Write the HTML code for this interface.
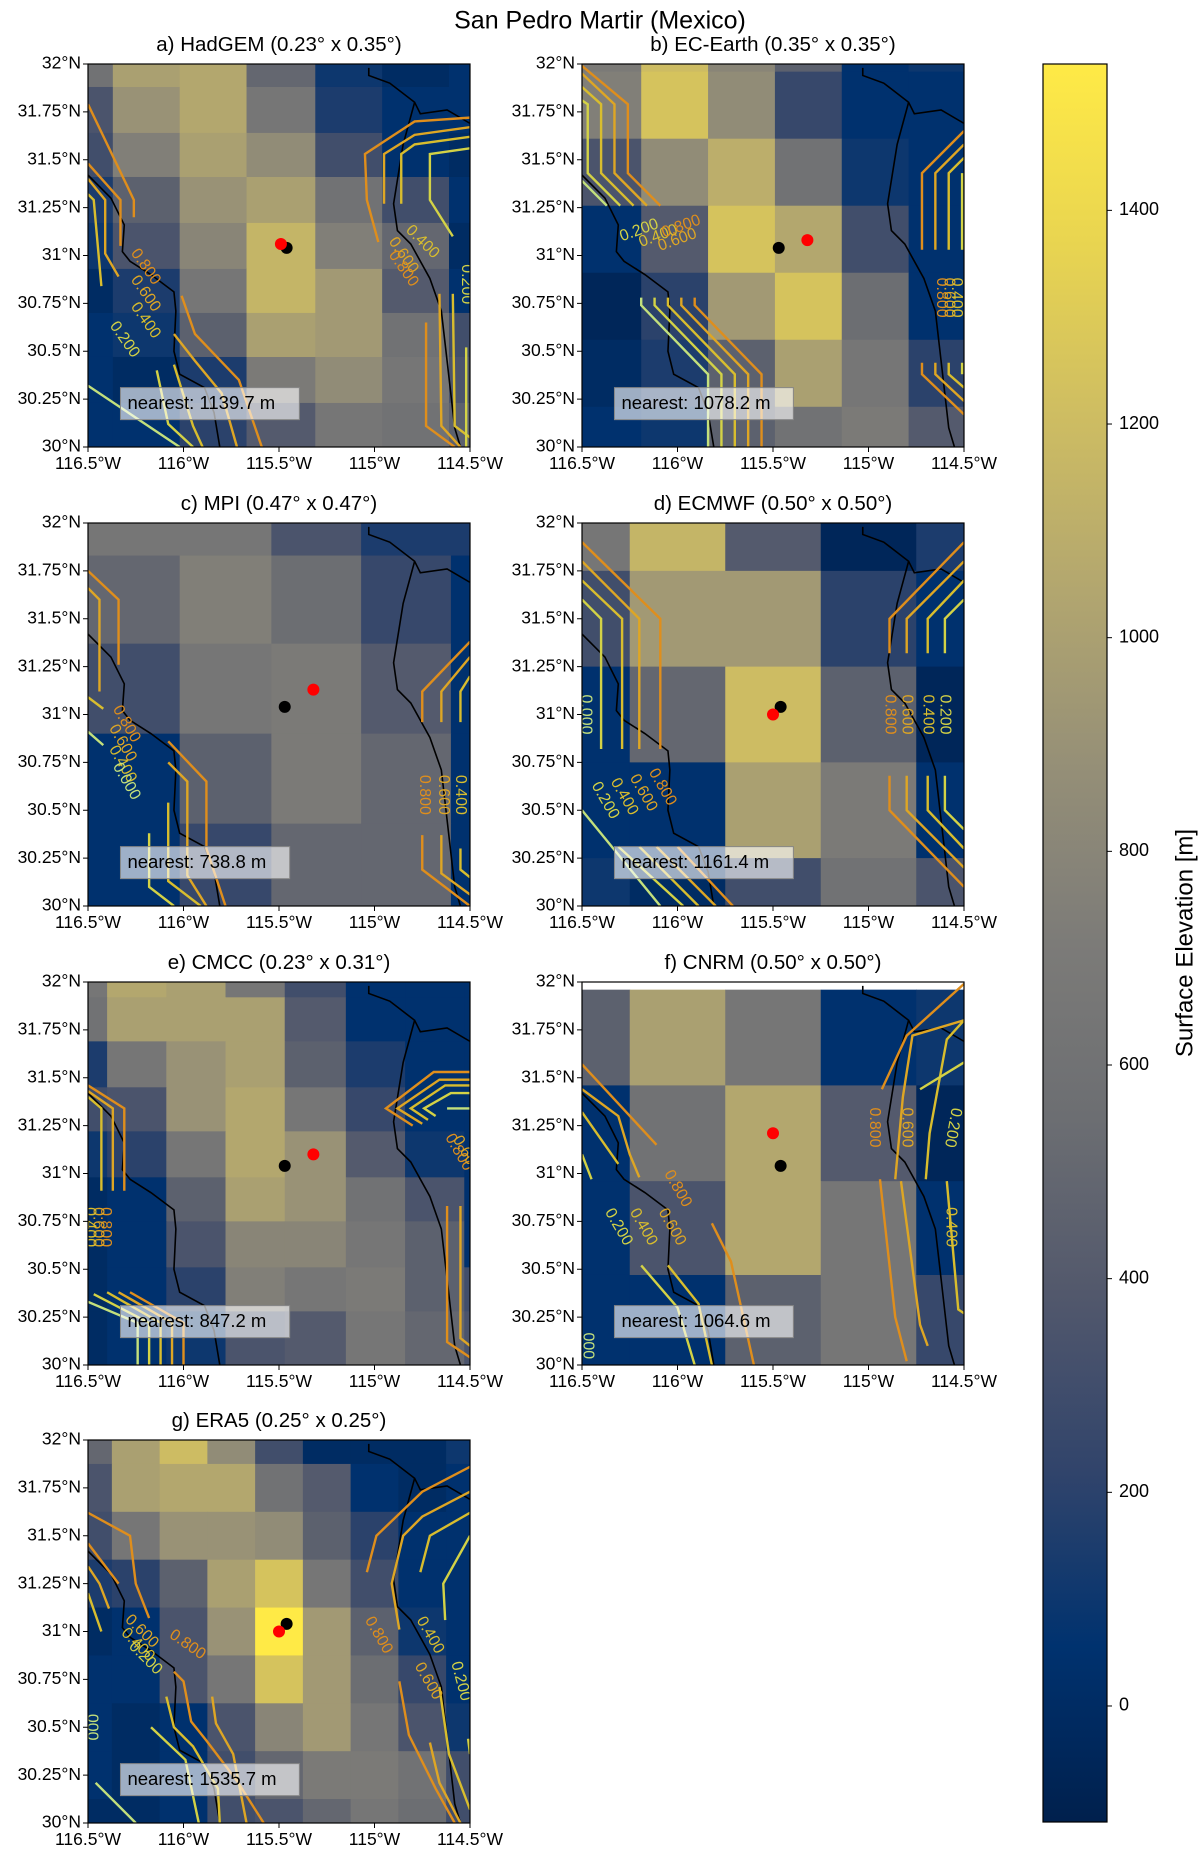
<!DOCTYPE html>
<html><head><meta charset="utf-8"><style>
body{margin:0;background:#fff;}
svg text{font-family:"Liberation Sans","DejaVu Sans",sans-serif;}
</style></head><body>
<svg id="fig" width="1200" height="1852" viewBox="0 0 1200 1852" xmlns="http://www.w3.org/2000/svg">
<text x="600" y="22" font-size="25" text-anchor="middle" dominant-baseline="middle" fill="#000">San Pedro Martir (Mexico)</text>
</svg>
<script>
const VMIN=-108.6, VMAX=1537;
const cbTicks=[0,200,400,600,800,1000,1200,1400];
const xTickVals=[-116.5,-116,-115.5,-115,-114.5];
const xTickLabels=["116.5°W","116°W","115.5°W","115°W","114.5°W"];
const yTickVals=[32,31.75,31.5,31.25,31,30.75,30.5,30.25,30];
const yTickLabels=["32°N","31.75°N","31.5°N","31.25°N","31°N","30.75°N","30.5°N","30.25°N","30°N"];
const coastWest=[[-116.5,31.42],[-116.38,31.30],[-116.31,31.16],[-116.32,31.02],[-116.28,30.97],[-116.17,30.90],[-116.05,30.81],[-116.04,30.71],[-116.05,30.50],[-116.02,30.38],[-115.89,30.31],[-115.84,30.18],[-115.81,30.0]];
const coastGulfW=[[-115.03,31.98],[-115.03,31.94],[-114.92,31.90],[-114.79,31.80],[-114.85,31.58],[-114.90,31.27],[-114.88,31.13],[-114.81,31.06],[-114.71,30.88],[-114.65,30.71],[-114.62,30.45],[-114.58,30.10],[-114.55,30.0]];
const coastGulfE=[[-114.79,31.80],[-114.76,31.74],[-114.62,31.76],[-114.5,31.69]];
const cividis=[[0,32,77],[0,50,111],[49,68,107],[82,88,108],[108,110,114],[124,123,120],[149,143,119],[178,166,111],[206,189,98],[233,213,80],[255,234,70]];
const levelColors={"0.0":"#c3e07c","0.2":"#d3d246","0.4":"#d8bd2e","0.6":"#dea624","0.8":"#df8e1c"};

// Panel a
const titleA="a) HadGEM (0.23° x 0.35°)";
const lonA=[-116.5,-116.37,-116.02,-115.67,-115.31,-114.96,-114.61,-114.5];
const latA=[32,31.88,31.64,31.41,31.17,30.93,30.70,30.47,30.23,30];
const elevA=[[600,1000,1050,500,100,0,50],[350,900,1050,650,150,50,50],[300,750,1000,850,300,50,0],[150,450,900,1000,600,300,50],[100,350,800,1150,750,500,0],[0,150,650,1150,950,400,50],[50,100,450,1000,950,600,300],[50,0,150,700,850,650,350],[50,50,200,400,650,600,450]];
const blackA=[-115.46,31.04], redA=[-115.49,31.06], nearestA="nearest: 1139.7 m";
const contA=[["0.8",[[-116.5,31.79],[-116.26,31.29],[-116.26,31.2]]],["0.8",[[-116.5,31.48],[-116.33,31.29],[-116.33,31.05]]],["0.6",[[-116.5,31.4],[-116.41,31.29],[-116.41,31.01],[-116.34,30.89]]],["0.4",[[-116.5,31.32],[-116.47,31.29],[-116.43,30.84]]],["0.8",[[-116.01,30.79],[-115.94,30.59],[-115.71,30.35],[-115.59,30]]],["0.6",[[-116.05,30.59],[-115.94,30.45],[-115.8,30.28],[-115.72,30]]],["0.4",[[-116.05,30.43],[-115.95,30.11],[-115.9,30]]],["0.2",[[-116.14,30.4],[-116.08,30.12],[-115.95,30]]],["0.0",[[-116.5,30.32],[-116.02,30]]],["0.8",[[-114.98,31.07],[-115.04,31.29],[-115.05,31.53],[-114.79,31.70],[-114.5,31.72]]],["0.6",[[-114.95,31.27],[-114.95,31.53],[-114.79,31.63],[-114.5,31.67]]],["0.4",[[-114.86,31.27],[-114.86,31.53],[-114.79,31.58],[-114.5,31.62]]],["0.2",[[-114.59,31.1],[-114.71,31.29],[-114.71,31.53],[-114.5,31.56]]],["0.8",[[-114.73,30.65],[-114.73,30.11],[-114.58,30]]],["0.6",[[-114.66,30.8],[-114.65,30.11],[-114.55,30]]],["0.4",[[-114.59,30.8],[-114.58,30.11],[-114.5,30.05]]],["0.2",[[-114.52,30.52],[-114.52,30]]]];
const labA=[["0.8","0.800",-116.2,30.94,55],["0.6","0.600",-116.2,30.8,55],["0.4","0.400",-116.2,30.66,55],["0.2","0.200",-116.31,30.56,55],["0.4","0.400",-114.75,31.07,45],["0.6","0.600",-114.85,31.0,55],["0.8","0.800",-114.85,30.93,55],["0.2","0.200",-114.52,30.85,90]];

// Panel b
const titleB="b) EC-Earth (0.35° x 0.35°)";
const lonB=[-116.5,-116.19,-115.84,-115.49,-115.14,-114.79,-114.5];
const latB=[32,31.96,31.61,31.26,30.91,30.56,30.21,30];
const elevB=[[700,1200,800,450,50,100],[750,1250,850,250,50,50],[350,850,1100,600,100,50],[50,400,1250,1050,300,50],[-50,200,950,1250,550,50],[0,150,450,1000,650,200],[50,100,450,600,700,400]];
const blackB=[-115.47,31.04], redB=[-115.32,31.08], nearestB="nearest: 1078.2 m";
const contB=[["0.8",[[-116.5,31.99],[-116.26,31.79],[-116.26,31.43],[-116.09,31.26]]],["0.6",[[-116.5,31.95],[-116.33,31.79],[-116.33,31.43],[-116.16,31.26]]],["0.4",[[-116.5,31.88],[-116.4,31.79],[-116.4,31.43],[-116.23,31.26]]],["0.2",[[-116.5,31.81],[-116.47,31.79],[-116.47,31.43],[-116.3,31.26]]],["0.0",[[-116.5,31.39],[-116.37,31.26]]],["0.0",[[-116.19,30.78],[-116.19,30.74],[-115.84,30.38],[-115.84,30]]],["0.2",[[-116.12,30.78],[-116.12,30.74],[-115.77,30.38],[-115.77,30]]],["0.4",[[-116.05,30.78],[-116.05,30.74],[-115.7,30.38],[-115.7,30]]],["0.6",[[-115.98,30.78],[-115.98,30.74],[-115.63,30.38],[-115.63,30]]],["0.8",[[-115.91,30.78],[-115.91,30.74],[-115.56,30.38],[-115.56,30]]],["0.8",[[-114.72,31.03],[-114.72,31.43],[-114.5,31.65]]],["0.6",[[-114.65,31.03],[-114.65,31.43],[-114.5,31.58]]],["0.4",[[-114.58,31.03],[-114.58,31.43],[-114.5,31.51]]],["0.2",[[-114.51,31.03],[-114.51,31.43]]],["0.8",[[-114.72,30.44],[-114.72,30.38],[-114.5,30.17]]],["0.6",[[-114.65,30.44],[-114.65,30.38],[-114.5,30.24]]],["0.4",[[-114.58,30.44],[-114.58,30.38],[-114.5,30.31]]],["0.2",[[-114.51,30.44],[-114.51,30.38]]]];
const labB=[["0.2","0.200",-116.2,31.13,-20],["0.4","0.400",-116.1,31.1,-20],["0.6","0.600",-116.0,31.08,-20],["0.8","0.800",-115.98,31.15,-20],["0.8","0.800",-114.62,30.78,90],["0.6","0.600",-114.58,30.78,90],["0.4","0.400",-114.54,30.78,90]];

// Panel c
const titleC="c) MPI (0.47° x 0.47°)";
const lonC=[-116.5,-116.02,-115.54,-115.07,-114.6,-114.5];
const latC=[32,31.83,31.37,30.90,30.43,30];
const elevC=[[650,650,350,150,150],[500,750,550,250,50],[300,650,700,400,50],[50,450,700,500,50],[50,250,500,500,50]];
const blackC=[-115.47,31.04], redC=[-115.32,31.13], nearestC="nearest: 738.8 m";
const contC=[["0.8",[[-116.5,31.75],[-116.34,31.6],[-116.34,31.26]]],["0.6",[[-116.5,31.66],[-116.44,31.6],[-116.44,31.12]]],["0.4",[[-116.5,31.09],[-116.42,31.03]]],["0.0",[[-116.5,30.91],[-116.42,30.84]]],["0.8",[[-116.08,30.86],[-115.88,30.65],[-115.88,30.30],[-115.78,30]]],["0.6",[[-116.08,30.75],[-115.98,30.65],[-115.98,30.16],[-115.88,30]]],["0.4",[[-116.08,30.54],[-116.08,30.13],[-115.91,30]]],["0.2",[[-116.18,30.38],[-116.18,30.10],[-116.05,30]]],["0.8",[[-114.5,31.38],[-114.75,31.12],[-114.75,30.96]]],["0.6",[[-114.5,31.30],[-114.65,31.12],[-114.65,30.96]]],["0.4",[[-114.5,31.20],[-114.55,31.12],[-114.55,30.96]]],["0.8",[[-114.75,30.37],[-114.75,30.19],[-114.5,30]]],["0.6",[[-114.65,30.37],[-114.65,30.17],[-114.5,30.06]]],["0.4",[[-114.55,30.30],[-114.55,30.19],[-114.5,30.15]]]];
const labC=[["0.8","0.800",-116.3,30.95,60],["0.6","0.600",-116.32,30.85,60],["0.4","0.400",-116.32,30.74,60],["0.0","0.000",-116.3,30.65,60],["0.8","0.800",-114.74,30.58,90],["0.6","0.600",-114.64,30.58,90],["0.4","0.400",-114.55,30.58,90]];

// Panel d
const titleD="d) ECMWF (0.50° x 0.50°)";
const lonD=[-116.5,-116.25,-115.75,-115.25,-114.75,-114.5];
const latD=[32,31.75,31.25,30.75,30.25,30];
const elevD=[[650,1150,400,-50,150],[300,950,950,200,50],[50,500,1200,450,-50],[50,50,1000,700,50],[100,0,300,600,350]];
const blackD=[-115.46,31.04], redD=[-115.50,31.0], nearestD="nearest: 1161.4 m";
const contD=[["0.8",[[-116.5,31.9],[-116.09,31.5],[-116.09,30.82]]],["0.6",[[-116.5,31.8],[-116.2,31.5],[-116.2,30.82]]],["0.4",[[-116.5,31.7],[-116.29,31.5],[-116.29,30.82]]],["0.2",[[-116.5,31.6],[-116.4,31.5],[-116.4,30.82]]],["0.0",[[-116.5,30.5],[-116.09,30]]],["0.2",[[-116.31,30.31],[-115.97,30]]],["0.4",[[-116.2,30.31],[-115.89,30]]],["0.6",[[-116.11,30.31],[-115.8,30]]],["0.8",[[-116.0,30.31],[-115.71,30]]],["0.8",[[-114.89,31.32],[-114.89,31.5],[-114.5,31.9]]],["0.6",[[-114.8,31.32],[-114.8,31.5],[-114.5,31.8]]],["0.4",[[-114.69,31.32],[-114.69,31.5],[-114.5,31.7]]],["0.2",[[-114.6,31.32],[-114.6,31.5],[-114.5,31.6]]],["0.8",[[-114.89,30.68],[-114.89,30.5],[-114.5,30.1]]],["0.6",[[-114.8,30.68],[-114.8,30.5],[-114.5,30.2]]],["0.4",[[-114.69,30.68],[-114.69,30.5],[-114.5,30.3]]],["0.2",[[-114.6,30.68],[-114.6,30.5],[-114.5,30.4]]]];
const labD=[["0.0","0.000",-116.48,31.0,90],["0.8","0.800",-114.89,31.0,90],["0.6","0.600",-114.8,31.0,90],["0.4","0.400",-114.69,31.0,90],["0.2","0.200",-114.6,31.0,90],["0.2","0.200",-116.38,30.55,60],["0.4","0.400",-116.28,30.57,60],["0.6","0.600",-116.18,30.59,60],["0.8","0.800",-116.08,30.62,60]];

// Panel e
const titleE="e) CMCC (0.23° x 0.31°)";
const lonE=[-116.5,-116.40,-116.09,-115.78,-115.47,-115.15,-114.84,-114.53,-114.5];
const latE=[32,31.92,31.69,31.45,31.22,30.98,30.75,30.51,30.28,30];
const elevE=[[650,1050,1000,650,300,50,50,50],[600,1000,1000,1000,400,50,50,50],[150,650,900,1000,450,150,50,50],[300,350,900,1050,650,250,50,50],[100,200,650,1050,900,400,100,50],[0,50,450,1000,900,600,350,50],[0,50,350,800,800,650,450,50],[0,50,200,750,650,700,450,300],[0,50,100,350,400,650,500,350]];
const blackE=[-115.47,31.04], redE=[-115.32,31.1], nearestE="nearest: 847.2 m";
const contE=[["0.8",[[-116.5,31.46],[-116.31,31.34],[-116.31,30.91]]],["0.6",[[-116.5,31.43],[-116.37,31.34],[-116.37,30.91]]],["0.4",[[-116.5,31.4],[-116.43,31.34],[-116.43,30.91]]],["0.8",[[-116.28,30.38],[-116.0,30.22],[-116.0,30]]],["0.6",[[-116.34,30.38],[-116.06,30.22],[-116.06,30]]],["0.4",[[-116.4,30.38],[-116.12,30.22],[-116.12,30]]],["0.2",[[-116.47,30.37],[-116.18,30.22],[-116.18,30]]],["0.0",[[-116.5,30.33],[-116.24,30.22],[-116.24,30]]],["0.8",[[-114.5,31.53],[-114.69,31.53],[-114.94,31.34],[-114.8,31.25]]],["0.6",[[-114.5,31.49],[-114.66,31.49],[-114.88,31.34],[-114.75,31.26]]],["0.4",[[-114.5,31.46],[-114.63,31.46],[-114.81,31.34],[-114.72,31.28]]],["0.2",[[-114.5,31.42],[-114.6,31.42],[-114.74,31.34],[-114.68,31.3]]],["0.0",[[-114.5,31.34],[-114.62,31.34]]],["0.8",[[-114.62,30.83],[-114.62,30.12],[-114.5,30.04]]],["0.6",[[-114.55,30.83],[-114.55,30.14],[-114.5,30.1]]]];
const labE=[["0.8","0.800",-114.56,31.11,60],["0.6","0.600",-114.52,31.1,60],["0.8","0.800",-116.41,30.72,90],["0.6","0.600",-116.45,30.72,90],["0.4","0.400",-116.49,30.72,90]];

// Panel f
const titleF="f) CNRM (0.50° x 0.50°)";
const lonF=[-116.5,-116.25,-115.75,-115.25,-114.75,-114.5];
const latF=[31.96,31.46,30.96,30.47,30];
const elevF=[[450,1000,650,50,100],[50,600,1050,400,-50],[50,350,1050,650,50],[50,50,450,650,250]];
const blackF=[-115.46,31.04], redF=[-115.5,31.21], nearestF="nearest: 1064.6 m";
const contF=[["0.8",[[-116.5,31.57],[-116.11,31.15]]],["0.6",[[-116.5,31.44],[-116.31,31.3],[-116.25,31.1],[-116.2,30.98]]],["0.4",[[-116.5,31.32],[-116.31,31.05]]],["0.2",[[-116.5,31.1],[-116.45,30.97]]],["0.2",[[-116.19,30.52],[-116.0,30.3],[-115.91,30]]],["0.4",[[-116.05,30.52],[-115.89,30.32],[-115.82,30]]],["0.8",[[-115.82,30.74],[-115.72,30.54],[-115.6,30]]],["0.8",[[-114.93,31.44],[-114.8,31.72],[-114.5,31.99]]],["0.6",[[-114.86,30.97],[-114.82,31.4],[-114.77,31.72],[-114.5,31.8]]],["0.4",[[-114.7,30.97],[-114.68,31.21],[-114.59,31.7],[-114.5,31.8]]],["0.2",[[-114.73,31.44],[-114.5,31.58]]],["0.8",[[-114.94,30.97],[-114.86,30.25],[-114.8,30.02]]],["0.6",[[-114.83,30.96],[-114.73,30.21],[-114.69,30.1]]],["0.4",[[-114.59,30.96],[-114.53,30.29],[-114.5,30.27]]]];
const labF=[["0.8","0.800",-114.97,31.24,90],["0.6","0.600",-114.8,31.24,90],["0.2","0.200",-114.56,31.24,100],["0.8","0.800",-116.0,30.92,60],["0.6","0.600",-116.03,30.72,60],["0.4","0.400",-116.18,30.72,60],["0.2","0.200",-116.31,30.72,60],["0.4","0.400",-114.57,30.72,90],["0.0","000",-116.47,30.1,90]];

// Panel g
const titleG="g) ERA5 (0.25° x 0.25°)";
const lonG=[-116.5,-116.375,-116.125,-115.875,-115.625,-115.375,-115.125,-114.875,-114.625,-114.5];
const latG=[32,31.875,31.625,31.375,31.125,30.875,30.625,30.375,30.125,30];
const elevG=[[500,1000,1200,850,300,0,0,0,100],[350,1000,1050,1050,600,400,50,0,50],[300,650,900,900,850,450,200,50,50],[150,200,450,1000,1250,650,300,50,50],[0,50,350,900,1536,950,450,100,50],[50,50,350,650,1250,950,550,250,50],[50,0,50,350,800,950,650,350,100],[50,0,50,300,500,700,700,600,300],[0,0,50,300,350,500,650,550,300]];
const blackG=[-115.46,31.04], redG=[-115.5,31.0], nearestG="nearest: 1535.7 m";
const contG=[["0.8",[[-116.5,31.62],[-116.28,31.5],[-116.25,31.25],[-116.18,31.07]]],["0.8",[[-116.5,31.46],[-116.34,31.25]]],["0.6",[[-116.5,31.34],[-116.44,31.25],[-116.39,31.12]]],["0.4",[[-116.5,31.2],[-116.43,31.0]]],["0.8",[[-116.05,30.79],[-116.0,30.74],[-115.96,30.53],[-115.88,30.43],[-115.72,30.22],[-115.58,30.0]]],["0.6",[[-115.85,30.66],[-115.83,30.52],[-115.74,30.36],[-115.67,30.0]]],["0.4",[[-116.09,30.66],[-116.05,30.5],[-115.95,30.4],[-115.82,30.18],[-115.81,30.0]]],["0.2",[[-116.17,30.5],[-115.99,30.33],[-115.92,30.0]]],["0.0",[[-116.46,30.21],[-116.25,30.0]]],["0.8",[[-115.04,31.31],[-114.99,31.5],[-114.75,31.73],[-114.5,31.86]]],["0.6",[[-114.87,31.01],[-114.91,31.25],[-114.85,31.5],[-114.75,31.6],[-114.5,31.73]]],["0.4",[[-114.76,31.31],[-114.71,31.5],[-114.5,31.62]]],["0.2",[[-114.63,31.06],[-114.64,31.25],[-114.5,31.5]]],["0.8",[[-114.87,30.74],[-114.82,30.46],[-114.68,30.18],[-114.58,30.0]]],["0.6",[[-114.71,30.42],[-114.66,30.21],[-114.55,30.0]]],["0.4",[[-114.66,30.71],[-114.61,30.36],[-114.5,30.07]]],["0.2",[[-114.51,30.44],[-114.5,30.36]]]];
const labG=[["0.6","0.600",-116.22,31.0,45],["0.4","0.400",-116.24,30.93,45],["0.2","0.200",-116.2,30.86,45],["0.8","0.800",-115.98,30.93,35],["0.8","0.800",-114.98,30.98,60],["0.4","0.400",-114.71,30.98,60],["0.6","0.600",-114.72,30.74,60],["0.2","0.200",-114.55,30.74,75],["0.0","000",-116.48,30.5,90]];

const panels=[
 {id:"a",x0:88,y0:64,title:titleA,lon:lonA,lat:latA,elev:elevA,black:blackA,red:redA,nearest:nearestA,cont:contA,lab:labA},
 {id:"b",x0:582,y0:64,title:titleB,lon:lonB,lat:latB,elev:elevB,black:blackB,red:redB,nearest:nearestB,cont:contB,lab:labB},
 {id:"c",x0:88,y0:523,title:titleC,lon:lonC,lat:latC,elev:elevC,black:blackC,red:redC,nearest:nearestC,cont:contC,lab:labC},
 {id:"d",x0:582,y0:523,title:titleD,lon:lonD,lat:latD,elev:elevD,black:blackD,red:redD,nearest:nearestD,cont:contD,lab:labD},
 {id:"e",x0:88,y0:982,title:titleE,lon:lonE,lat:latE,elev:elevE,black:blackE,red:redE,nearest:nearestE,cont:contE,lab:labE},
 {id:"f",x0:582,y0:982,title:titleF,lon:lonF,lat:latF,elev:elevF,black:blackF,red:redF,nearest:nearestF,cont:contF,lab:labF},
 {id:"g",x0:88,y0:1440,title:titleG,lon:lonG,lat:latG,elev:elevG,black:blackG,red:redG,nearest:nearestG,cont:contG,lab:labG}
];
const W=382,H=383;
const NS="http://www.w3.org/2000/svg";
const svg=document.getElementById('fig');
function mk(tag,attrs,parent){const e=document.createElementNS(NS,tag);for(const k in attrs)e.setAttribute(k,attrs[k]);(parent||svg).appendChild(e);return e;}
function cmap(v){let t=(v-VMIN)/(VMAX-VMIN);t=Math.max(0,Math.min(1,t));const s=t*10,i=Math.min(9,Math.floor(s)),f=s-i;const a=cividis[i],b=cividis[i+1];return `rgb(${Math.round(a[0]+(b[0]-a[0])*f)},${Math.round(a[1]+(b[1]-a[1])*f)},${Math.round(a[2]+(b[2]-a[2])*f)})`;}
const defs=mk('defs',{});
panels.forEach(p=>{
 const X=lon=>p.x0+(lon+116.5)/2*W, Y=lat=>p.y0+(32-lat)/2*H;
 const g=mk('g',{});
 
 
 const cp=mk('clipPath',{id:'clip'+p.id},defs);mk('rect',{x:p.x0,y:p.y0,width:W,height:H},cp);
 const t=mk('text',{x:p.x0+W/2,y:p.y0-13,'font-size':20.5,'text-anchor':'middle',fill:'#000'},g);
 t.textContent=p.title;
 
 
 const cg=mk('g',{'clip-path':`url(#clip${p.id})`},g);
 for(let r=0;r<p.elev.length;r++)for(let c=0;c<p.elev[r].length;c++){
  const x1=X(p.lon[c]),x2=X(p.lon[c+1]),y1=Y(p.lat[r]),y2=Y(p.lat[r+1]);
  const cell=mk('rect',{x:x1,y:y1,width:x2-x1+0.5,height:y2-y1+0.5,fill:cmap(p.elev[r][c])},cg);
  
  
 }
 [coastWest,coastGulfW,coastGulfE].forEach(cs=>{
  const l=mk('polyline',{points:cs.map(q=>X(q[0])+','+Y(q[1])).join(' '),fill:'none',stroke:'#000','stroke-width':1.6},cg);
  
  
 });
 p.cont.forEach(cn=>{
  const l=mk('polyline',{points:cn[1].map(q=>X(q[0])+','+Y(q[1])).join(' '),fill:'none',stroke:levelColors[cn[0]],'stroke-width':2.4,'stroke-linejoin':'miter'},cg);
  
  
 });
 p.lab.forEach(lb=>{
  const x=X(lb[2]),y=Y(lb[3]);
  const tx=mk('text',{x:x,y:y,'font-size':16,fill:levelColors[lb[0]],'text-anchor':'middle','dominant-baseline':'middle',transform:`rotate(${lb[4]} ${x} ${y})`},cg);
  tx.textContent=lb[1];
  
  
 });
 const bd=mk('circle',{cx:X(p.black[0]),cy:Y(p.black[1]),r:6,fill:'#000'},cg);
 
 
 const rd=mk('circle',{cx:X(p.red[0]),cy:Y(p.red[1]),r:6,fill:'#f00'},cg);
 
 
 const bx=X(-116.33), by=Y(30.31);
 const tw=p.nearest.length*9.7+14;
 const box=mk('rect',{x:bx,y:by,width:tw,height:32,fill:'rgba(255,255,255,0.62)',stroke:'#888','stroke-width':1},g);
 
 
 const nt=mk('text',{x:bx+7,y:by+16.5,'font-size':18.5,fill:'#000','dominant-baseline':'middle'},g);
 nt.textContent=p.nearest;
 
 
 const fr=mk('rect',{x:p.x0,y:p.y0,width:W,height:H,fill:'none',stroke:'#000','stroke-width':1.2},g);
 
 
 xTickVals.forEach((v,i)=>{
  mk('line',{x1:X(v),x2:X(v),y1:p.y0+H,y2:p.y0+H+5,stroke:'#000','stroke-width':1},g);
  const tl=mk('text',{x:X(v),y:p.y0+H+22,'font-size':17.5,'text-anchor':'middle',fill:'#000'},g);
  tl.textContent=xTickLabels[i];
  
  
 });
 yTickVals.forEach((v,i)=>{
  mk('line',{x1:p.x0-5,x2:p.x0,y1:Y(v),y2:Y(v),stroke:'#000','stroke-width':1},g);
  const tl=mk('text',{x:p.x0-7,y:Y(v),'font-size':17.5,'text-anchor':'end','dominant-baseline':'middle',fill:'#000'},g);
  tl.textContent=yTickLabels[i];
  
  
 });
});
const CBX=1043,CBW=64,CBT=64,CBB=1822;
const CY=v=>CBB-(v-VMIN)/(VMAX-VMIN)*(CBB-CBT);
const lg=mk('linearGradient',{id:'cbgrad',x1:0,y1:1,x2:0,y2:0},defs);
cividis.forEach((c,i)=>mk('stop',{offset:i/10,'stop-color':`rgb(${c[0]},${c[1]},${c[2]})`},lg));
const cb=mk('rect',{x:CBX,y:CBT,width:CBW,height:CBB-CBT,fill:'url(#cbgrad)',stroke:'#000','stroke-width':1.2});


cbTicks.forEach(v=>{
 mk('line',{x1:CBX+CBW,x2:CBX+CBW+5,y1:CY(v),y2:CY(v),stroke:'#000','stroke-width':1});
 const tl=mk('text',{x:CBX+CBW+12,y:CY(v),'font-size':18,'dominant-baseline':'middle',fill:'#000'});
 tl.textContent=String(v);
 
 
});
const cl=mk('text',{x:1186,y:943,'font-size':24,'text-anchor':'middle','dominant-baseline':'middle',fill:'#000',transform:'rotate(-90 1186 943)'});
cl.textContent="Surface Elevation [m]";


</script>
</body></html>
